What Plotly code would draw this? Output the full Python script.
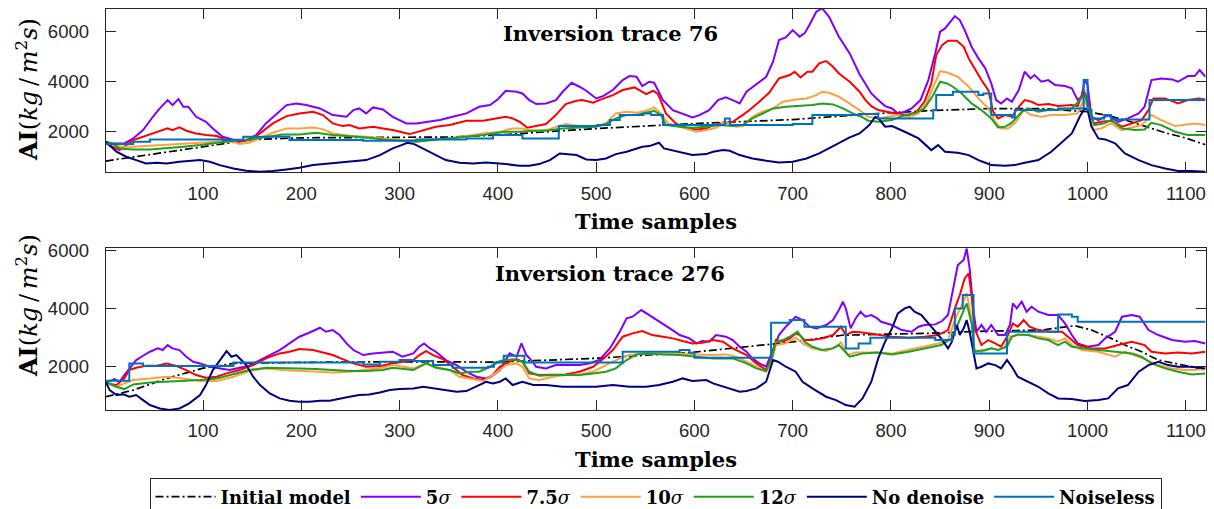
import plotly.graph_objects as go

# ---------------- Trace 76 (top panel) ----------------
init76_x = [1, 30, 64, 100, 131, 150, 200, 250, 300, 350, 400, 500, 600, 700, 786, 835, 900, 953, 1000, 1020, 1040, 1060, 1080, 1100, 1120]
init76_y = [830, 1000, 1200, 1400, 1600, 1690, 1760, 1760, 1760, 1790, 1870, 2130, 2330, 2490, 2730, 2840, 2930, 2930, 2800, 2650, 2450, 2200, 1950, 1750, 1480]

s5_76_x = [1, 20, 29, 39, 49, 56, 64, 69, 75, 80, 85, 93, 103, 110, 120, 130, 144, 154, 164, 175, 185, 195, 205, 219, 232, 246, 253, 259, 266, 273, 283, 293, 307, 317, 327, 341, 354, 368, 381, 392, 400, 408, 419, 425, 432, 439, 449, 459, 466, 475, 483, 490, 500, 507, 517, 527, 534, 541, 547, 554, 559, 568, 578, 588, 598, 605, 615, 624, 632, 639, 646, 653, 663, 673, 680, 686, 693, 700, 707, 712, 717, 724, 730, 737, 747, 758, 768, 774, 780, 787, 794, 801, 807, 814, 821, 830, 838, 845, 850, 855, 860, 865, 870, 875, 882, 889, 896, 902, 907, 912, 918, 923, 930, 936, 942, 946, 953, 960, 967, 977, 984, 990, 994, 997, 1000, 1004, 1011, 1021, 1031, 1041, 1052, 1058, 1065, 1075, 1086, 1092, 1102, 1109, 1114, 1120]
s5_76_y = [1535, 1535, 1735, 2068, 2600, 2934, 3268, 3068, 3308, 3001, 3001, 2600, 2400, 2134, 1800, 1695, 1668, 1868, 2335, 2735, 3068, 3135, 3068, 2934, 2668, 2600, 2868, 2934, 2735, 2975, 2895, 2600, 2335, 2335, 2400, 2468, 2600, 2735, 3001, 3068, 3300, 3641, 3601, 3534, 3268, 3108, 3135, 3268, 3601, 3961, 3801, 3641, 3334, 3428, 3668, 4068, 4228, 4201, 3828, 4001, 3961, 3268, 2868, 2735, 2575, 2668, 2868, 3268, 3375, 3268, 3135, 3601, 3908, 4201, 4801, 5667, 5774, 6067, 5801, 5934, 6267, 6800, 6934, 6600, 5801, 5134, 4300, 3934, 3534, 3268, 3028, 2934, 2735, 2801, 2934, 3268, 4068, 5134, 6001, 6134, 6400, 6627, 6467, 6067, 5401, 4934, 4534, 3934, 3268, 3135, 3334, 3201, 3668, 4401, 4135, 4268, 4001, 4068, 3868, 3828, 3735, 3268, 3401, 4068, 3868, 2600, 2468, 2668, 2400, 2535, 2735, 3001, 4068, 4135, 4095, 4001, 4228, 4228, 4468, 4201]

s75_76_x = [1, 15, 29, 39, 53, 64, 69, 76, 83, 93, 103, 114, 124, 137, 147, 158, 171, 185, 198, 212, 222, 232, 242, 249, 259, 273, 283, 293, 310, 324, 337, 351, 368, 385, 400, 408, 415, 422, 430, 439, 449, 459, 469, 480, 486, 497, 503, 517, 527, 539, 544, 551, 558, 563, 571, 581, 591, 602, 612, 619, 629, 639, 649, 656, 666, 676, 686, 697, 702, 708, 715, 720, 727, 734, 741, 747, 758, 768, 774, 780, 787, 797, 807, 818, 826, 834, 841, 846, 852, 858, 867, 874, 879, 886, 892, 899, 904, 909, 916, 923, 930, 936, 943, 950, 960, 970, 984, 990, 996, 1000, 1006, 1014, 1024, 1035, 1045, 1055, 1062, 1067, 1079, 1092, 1102, 1113, 1120]
s75_76_y = [1535, 1268, 1668, 1802, 2002, 2135, 2068, 2175, 2042, 1935, 1868, 1828, 1668, 1602, 1668, 1935, 2335, 2628, 2735, 2801, 2668, 2335, 2228, 2268, 2135, 2202, 2135, 2068, 1908, 2068, 2202, 2268, 2442, 2442, 2535, 2602, 2535, 2402, 2162, 2228, 2308, 2668, 3108, 3241, 3268, 3161, 3268, 3468, 3668, 3775, 3668, 3508, 3641, 3508, 2735, 2335, 2162, 2095, 2135, 2268, 2335, 2402, 2668, 2868, 3201, 3561, 4134, 4268, 4401, 4174, 4401, 4401, 4734, 4828, 4601, 4334, 4001, 3601, 3268, 3028, 2868, 2801, 2708, 2668, 2801, 3201, 3934, 5067, 5467, 5641, 5641, 5401, 4934, 4468, 4068, 3668, 2801, 2535, 2668, 2602, 3001, 3268, 3201, 3068, 3108, 3028, 3068, 3028, 3668, 3268, 2335, 2402, 2442, 2202, 2335, 2468, 2868, 3334, 3334, 3135, 3268, 3334, 3295]

s10_76_x = [1, 15, 29, 46, 63, 80, 97, 114, 131, 137, 147, 158, 171, 185, 198, 212, 222, 232, 249, 266, 283, 300, 317, 334, 351, 368, 385, 402, 415, 425, 436, 449, 459, 469, 483, 500, 510, 520, 531, 541, 551, 559, 566, 573, 585, 595, 602, 612, 622, 632, 642, 649, 659, 669, 680, 690, 703, 714, 724, 730, 737, 747, 758, 768, 777, 787, 797, 807, 818, 828, 836, 843, 850, 858, 868, 879, 889, 899, 906, 912, 919, 926, 935, 943, 953, 963, 977, 990, 996, 1000, 1006, 1014, 1024, 1035, 1045, 1055, 1065, 1075, 1089, 1099, 1109, 1120]
s10_76_y = [1602, 1402, 1402, 1442, 1468, 1508, 1535, 1602, 1602, 1508, 1562, 1735, 1962, 2135, 2135, 2175, 2108, 1935, 1842, 1802, 1735, 1668, 1668, 1695, 1735, 1828, 1935, 2002, 2135, 2135, 2042, 2068, 2202, 2308, 2228, 2228, 2335, 2735, 2801, 2761, 2841, 2975, 2735, 2335, 2202, 2095, 2002, 2068, 2162, 2402, 2202, 2228, 2602, 2801, 2934, 3201, 3295, 3334, 3468, 3601, 3561, 3401, 3135, 2868, 2602, 2535, 2602, 2668, 2575, 2735, 3135, 3801, 4428, 4361, 4201, 3801, 3334, 2934, 2402, 2135, 2135, 2335, 2868, 2668, 2602, 2668, 2668, 2735, 3268, 3001, 2068, 2135, 2335, 2068, 2162, 2268, 2668, 2468, 2228, 2268, 2335, 2268]

s12_76_x = [1, 8, 15, 29, 46, 63, 80, 97, 114, 131, 147, 164, 181, 198, 215, 232, 249, 266, 283, 300, 317, 334, 351, 368, 385, 395, 408, 422, 436, 449, 466, 483, 500, 510, 520, 531, 541, 551, 559, 566, 571, 585, 598, 612, 625, 639, 649, 659, 669, 680, 693, 707, 720, 730, 741, 751, 761, 771, 777, 787, 801, 814, 824, 834, 843, 850, 857, 863, 872, 882, 892, 902, 909, 916, 923, 933, 940, 950, 960, 970, 984, 992, 997, 1002, 1007, 1017, 1024, 1035, 1048, 1058, 1065, 1075, 1089, 1102, 1120]
s12_76_y = [1602, 1535, 1335, 1295, 1295, 1335, 1402, 1468, 1562, 1642, 1695, 1802, 1895, 1895, 1962, 1868, 1828, 1775, 1695, 1642, 1602, 1668, 1735, 1775, 1868, 1935, 2002, 2002, 2042, 2042, 2135, 2175, 2202, 2308, 2535, 2668, 2668, 2761, 2841, 2668, 2268, 2202, 2162, 2202, 2268, 2228, 2268, 2535, 2735, 2934, 3001, 3028, 3068, 3135, 3095, 2934, 2735, 2575, 2442, 2402, 2468, 2668, 2735, 2934, 3468, 4001, 3934, 3801, 3534, 3135, 2868, 2535, 2175, 2202, 2362, 2801, 2934, 2801, 2868, 2868, 2934, 3268, 3468, 2868, 2268, 2335, 2468, 2135, 2068, 2095, 2362, 2268, 2002, 1868, 1868]

nd_76_x = [1, 3, 12, 22, 32, 42, 53, 63, 76, 86, 97, 107, 117, 131, 144, 158, 171, 185, 198, 212, 232, 253, 266, 280, 293, 302, 308, 315, 324, 334, 347, 361, 375, 388, 395, 408, 422, 432, 442, 453, 463, 469, 480, 490, 500, 510, 520, 531, 541, 547, 554, 559, 564, 569, 576, 585, 598, 612, 619, 629, 636, 646, 659, 673, 686, 700, 714, 727, 737, 747, 758, 768, 778, 784, 788, 794, 801, 814, 828, 841, 848, 855, 868, 879, 889, 896, 902, 916, 926, 936, 950, 963, 973, 984, 992, 997, 1000, 1004, 1011, 1018, 1028, 1038, 1052, 1065, 1079, 1092, 1106, 1120]
nd_76_y = [1600, 1535, 1202, 1002, 868, 735, 762, 735, 802, 828, 868, 802, 668, 535, 442, 402, 428, 495, 562, 668, 735, 802, 868, 1068, 1335, 1468, 1562, 1508, 1335, 1135, 868, 762, 735, 775, 762, 708, 642, 642, 708, 868, 1135, 1108, 1068, 895, 868, 935, 1108, 1202, 1335, 1402, 1428, 1508, 1562, 1335, 1268, 1162, 1068, 1108, 1202, 1268, 1242, 1068, 935, 842, 775, 802, 935, 1135, 1335, 1562, 1775, 1935, 2268, 2600, 2500, 2202, 2228, 2002, 1735, 1268, 1468, 1202, 1162, 1068, 868, 762, 668, 642, 668, 762, 868, 1202, 1535, 1935, 2602, 2934, 2868, 2202, 1735, 1695, 1535, 1135, 868, 668, 535, 428, 428, 402]

nl_76_x = [1, 29, 46, 120, 141, 188, 263, 317, 368, 395, 425, 462, 501, 514, 524, 548, 556, 568, 631, 636, 700, 720, 767, 787, 843, 846, 863, 889, 894, 902, 923, 926, 970, 996, 1000, 1004, 1017, 1024, 1063, 1120]
nl_76_y = [1508, 1602, 1695, 1668, 1802, 1668, 1642, 1695, 1735, 1868, 1735, 2228, 2268, 2468, 2668, 2735, 2668, 2268, 2533, 2268, 2308, 2668, 2708, 2535, 2868, 3468, 3601, 3468, 3534, 2668, 2575, 2868, 2934, 4068, 2868, 2535, 2668, 2495, 3268, 3268]

# ---------------- Trace 276 (bottom panel) ----------------
init276_x = [1, 29, 63, 100, 131, 200, 300, 400, 500, 600, 700, 750, 786, 834, 900, 953, 987, 1004, 1024, 1038, 1055, 1072, 1089, 1106, 1120]
init276_y = [971, 1200, 1600, 1950, 2114, 2150, 2170, 2160, 2290, 2500, 2850, 3080, 3110, 3143, 3223, 3258, 3406, 3258, 2972, 2743, 2515, 2229, 2115, 2000, 1886]

s5_276_x = [1, 5, 10, 15, 20, 25, 32, 39, 46, 54, 59, 64, 69, 76, 83, 90, 97, 107, 117, 127, 137, 147, 158, 168, 178, 188, 198, 208, 219, 225, 232, 239, 246, 253, 263, 273, 283, 293, 303, 314, 320, 325, 331, 337, 347, 358, 368, 378, 388, 395, 402, 412, 419, 424, 429, 434, 439, 449, 459, 469, 483, 493, 503, 514, 524, 531, 537, 546, 554, 564, 575, 585, 595, 602, 608, 615, 622, 632, 639, 646, 653, 659, 666, 673, 680, 686, 693, 703, 710, 717, 724, 734, 741, 747, 751, 754, 759, 764, 769, 774, 780, 786, 790, 801, 811, 821, 828, 834, 845, 852, 858, 863, 868, 874, 877, 880, 884, 887, 892, 897, 902, 909, 916, 921, 924, 928, 933, 938, 943, 950, 960, 970, 977, 984, 990, 1000, 1011, 1018, 1028, 1035, 1045, 1053, 1062, 1072, 1086, 1099, 1109, 1120]
s5_276_y = [1486, 1509, 1577, 1486, 1714, 1943, 2229, 2377, 2515, 2629, 2572, 2743, 2629, 2572, 2343, 2172, 2114, 2000, 1943, 1886, 1966, 2034, 2229, 2400, 2572, 2800, 3029, 3166, 3337, 3200, 3257, 3086, 2800, 2572, 2400, 2457, 2492, 2515, 2343, 2457, 2686, 2800, 2629, 2515, 2229, 2057, 1829, 1657, 1600, 1700, 1886, 2457, 2343, 2800, 2400, 2229, 2000, 1943, 2057, 2057, 2057, 2114, 2229, 2629, 3200, 3657, 3715, 3943, 3772, 3566, 3315, 3086, 2972, 2800, 2880, 2858, 3086, 3029, 2915, 2686, 2515, 2286, 2114, 2000, 2572, 3086, 3372, 3715, 3600, 3372, 3315, 3429, 3600, 3943, 4229, 4000, 3315, 3657, 3886, 3715, 3772, 3657, 3543, 3429, 3257, 3200, 3372, 3429, 3452, 3566, 3772, 4686, 5486, 5658, 6058, 5372, 3886, 3200, 3429, 3200, 3429, 3086, 3086, 3429, 4172, 4000, 4229, 3886, 4057, 3886, 3772, 3772, 3486, 3086, 2800, 2686, 2743, 2972, 3200, 3715, 3772, 3715, 3257, 3086, 2915, 2858, 2880, 2800]

s75_276_x = [1, 12, 20, 25, 32, 42, 53, 63, 73, 83, 93, 103, 114, 124, 137, 151, 164, 178, 188, 198, 212, 222, 232, 242, 253, 266, 280, 293, 303, 314, 320, 327, 334, 344, 354, 364, 375, 385, 393, 402, 412, 419, 425, 432, 442, 456, 469, 483, 497, 507, 517, 527, 537, 547, 557, 568, 578, 588, 598, 608, 619, 629, 639, 653, 663, 673, 678, 683, 690, 697, 703, 707, 712, 720, 730, 741, 749, 754, 761, 771, 786, 801, 818, 834, 848, 858, 865, 870, 875, 879, 882, 885, 892, 899, 906, 912, 919, 924, 929, 935, 941, 950, 963, 974, 980, 990, 1004, 1018, 1031, 1045, 1058, 1065, 1079, 1092, 1106, 1120]
s75_276_y = [1429, 1372, 1600, 1886, 1966, 2034, 2034, 2114, 2023, 1886, 1714, 1623, 1657, 1772, 1886, 2057, 2286, 2457, 2515, 2606, 2572, 2492, 2400, 2263, 2114, 2000, 2023, 2114, 2172, 2229, 2400, 2537, 2400, 2263, 2000, 1714, 1600, 1543, 1650, 2000, 2172, 2263, 2172, 1772, 1714, 1714, 1737, 1829, 2000, 2263, 2572, 3029, 3143, 3223, 3086, 3029, 2972, 2880, 2800, 2823, 2915, 2858, 2629, 2400, 2114, 1886, 2286, 2915, 2858, 2972, 3143, 3086, 2915, 2915, 2972, 3086, 3372, 3086, 3200, 3177, 3109, 3029, 2995, 3029, 3086, 3257, 4000, 4458, 5029, 5201, 4458, 3315, 2743, 2915, 2800, 2686, 3086, 3486, 3372, 3600, 3372, 3257, 3200, 3200, 3029, 2743, 2629, 2629, 2743, 2858, 2743, 2515, 2457, 2492, 2457, 2515]

s10_276_x = [1, 12, 20, 29, 46, 63, 80, 97, 114, 131, 147, 164, 181, 198, 215, 232, 249, 266, 283, 293, 303, 314, 327, 337, 351, 361, 371, 385, 395, 408, 419, 425, 432, 442, 456, 469, 483, 497, 510, 524, 534, 551, 568, 585, 602, 619, 632, 642, 653, 663, 673, 678, 683, 693, 703, 710, 720, 734, 744, 749, 756, 764, 774, 786, 801, 818, 834, 848, 858, 865, 872, 877, 882, 885, 892, 902, 909, 916, 921, 929, 940, 950, 960, 970, 977, 984, 994, 1011, 1028, 1038, 1048, 1058, 1072, 1086, 1099, 1109, 1120]
s10_276_y = [1429, 1314, 1429, 1543, 1600, 1657, 1600, 1509, 1509, 1657, 1852, 1943, 1886, 1852, 1829, 1806, 1829, 1886, 1966, 2057, 2000, 1943, 2114, 2000, 1886, 1657, 1600, 1509, 1714, 2057, 2114, 2000, 1600, 1543, 1657, 1714, 1737, 1829, 2057, 2286, 2400, 2457, 2457, 2457, 2423, 2400, 2423, 2343, 2172, 2000, 1829, 2114, 2743, 2800, 2995, 2800, 2629, 2537, 2686, 2835, 2400, 2492, 2492, 2492, 2457, 2572, 2686, 2800, 2915, 3600, 4115, 4515, 3657, 2572, 2515, 2629, 2572, 2686, 3029, 3086, 3086, 3029, 2972, 2858, 2972, 2743, 2572, 2515, 2343, 2515, 2400, 2263, 2057, 1943, 1886, 1886, 1943]

s12_276_x = [1, 12, 20, 29, 46, 63, 80, 97, 114, 131, 147, 164, 181, 198, 215, 232, 249, 266, 283, 293, 303, 314, 327, 337, 351, 361, 371, 381, 392, 402, 415, 425, 432, 442, 456, 469, 483, 497, 510, 520, 531, 541, 551, 568, 585, 602, 619, 639, 653, 663, 673, 678, 683, 690, 697, 705, 712, 720, 730, 741, 747, 758, 771, 786, 801, 818, 834, 851, 862, 868, 877, 882, 885, 896, 902, 909, 918, 923, 929, 940, 950, 960, 970, 977, 984, 997, 1014, 1031, 1045, 1055, 1065, 1079, 1092, 1106, 1120]
s12_276_y = [1486, 1314, 1234, 1394, 1463, 1486, 1520, 1543, 1600, 1737, 1886, 1966, 1966, 1943, 1920, 1886, 1852, 1852, 1886, 1966, 1920, 1886, 2114, 1966, 1886, 1772, 1829, 1829, 2000, 2195, 2252, 2172, 1829, 1692, 1714, 1714, 1714, 1772, 1829, 1943, 2229, 2423, 2457, 2423, 2400, 2343, 2286, 2286, 2114, 1943, 1852, 2229, 2858, 2915, 3029, 3200, 2858, 2686, 2572, 2629, 2743, 2343, 2457, 2492, 2423, 2515, 2629, 2743, 2972, 3429, 4172, 3486, 2515, 2572, 2629, 2572, 2686, 3029, 3109, 3086, 2972, 2915, 2743, 2858, 2686, 2629, 2572, 2515, 2457, 2343, 2114, 1943, 1829, 1737, 1772]

nd_276_x = [1, 5, 12, 19, 25, 32, 39, 46, 56, 66, 76, 86, 97, 103, 110, 117, 124, 129, 134, 139, 144, 151, 158, 168, 178, 188, 198, 208, 219, 229, 239, 249, 259, 269, 280, 290, 300, 314, 324, 334, 347, 358, 368, 378, 388, 395, 402, 408, 415, 425, 436, 449, 466, 483, 500, 517, 534, 551, 564, 578, 588, 598, 612, 619, 629, 639, 646, 653, 663, 673, 680, 685, 693, 703, 710, 720, 734, 744, 754, 763, 771, 780, 787, 794, 801, 807, 814, 819, 824, 831, 838, 845, 851, 858, 862, 867, 870, 874, 877, 880, 884, 887, 892, 899, 906, 912, 918, 923, 929, 940, 950, 960, 970, 984, 997, 1011, 1021, 1031, 1041, 1052, 1062, 1072, 1082, 1092, 1106, 1120]
nd_276_y = [1486, 1200, 1029, 1052, 972, 1029, 857, 686, 571, 514, 571, 743, 1029, 1372, 1886, 2229, 2537, 2343, 2400, 2229, 2057, 1657, 1372, 1086, 914, 834, 800, 800, 834, 834, 914, 972, 1029, 1052, 1120, 1200, 1234, 1257, 1314, 1257, 1200, 1143, 1166, 1314, 1486, 1429, 1486, 1600, 1372, 1486, 1372, 1372, 1314, 1314, 1314, 1372, 1314, 1314, 1372, 1486, 1600, 1509, 1543, 1429, 1314, 1200, 1143, 1166, 1257, 1486, 2229, 2172, 2000, 1829, 1486, 1257, 972, 857, 686, 629, 914, 1486, 2286, 2858, 3315, 3829, 4000, 4058, 3886, 3772, 3486, 3200, 2972, 2629, 2858, 3429, 3086, 3315, 3600, 3200, 2515, 1943, 2000, 2114, 2057, 1943, 2229, 2000, 1657, 1486, 1314, 1086, 914, 892, 823, 857, 914, 1257, 1372, 1829, 2057, 2172, 2057, 2000, 2000, 1943]

nl_276_x = [1, 25, 39, 131, 263, 280, 300, 314, 334, 354, 390, 396, 406, 427, 527, 585, 595, 600, 678, 697, 712, 754, 767, 779, 845, 862, 865, 873, 884, 918, 970, 984, 990, 1120]
nl_276_y = [1520, 2114, 2023, 2149, 2080, 2172, 2229, 2195, 2057, 1966, 2000, 2149, 2377, 2149, 2515, 2572, 2480, 2309, 3509, 3600, 3372, 2629, 2800, 2995, 2915, 3100, 4000, 4458, 2457, 3200, 3794, 3715, 3543, 3543]

x_ticks = [100, 200, 300, 400, 500, 600, 700, 800, 900, 1000, 1100]
y_ticks = [2000, 4000, 6000]

names = ["<b>Initial model</b>", "<b>5</b><i>σ</i>", "<b>7.5</b><i>σ</i>", "<b>10</b><i>σ</i>",
         "<b>12</b><i>σ</i>", "<b>No denoise</b>", "<b>Noiseless</b>"]
colors = ["#000000", "#8000FF", "#FF0000", "#FFA040", "#1FA01F", "#000080", "#0072BD"]

top = [(init76_x, init76_y), (s5_76_x, s5_76_y), (s75_76_x, s75_76_y), (s10_76_x, s10_76_y),
       (s12_76_x, s12_76_y), (nd_76_x, nd_76_y), (nl_76_x, nl_76_y)]
bot = [(init276_x, init276_y), (s5_276_x, s5_276_y), (s75_276_x, s75_276_y), (s10_276_x, s10_276_y),
       (s12_276_x, s12_276_y), (nd_276_x, nd_276_y), (nl_276_x, nl_276_y)]

fig = go.Figure()
for panel, (xa, ya, data) in enumerate([("x", "y", top), ("x2", "y2", bot)]):
    for i, (xs, ys) in enumerate(data):
        line = dict(color=colors[i], width=2)
        if i == 0:
            line["dash"] = "8px,3px,2px,3px"
            line["width"] = 1.7
        if i == 6:
            line["shape"] = "hv"
        fig.add_trace(go.Scatter(x=xs, y=ys, mode="lines", name=names[i], line=line,
                                 xaxis=xa, yaxis=ya, showlegend=(panel == 0)))

W, H = 1214, 509
axis_common = dict(showline=True, linecolor="#262626", linewidth=1, mirror="ticks",
                   ticks="inside", ticklen=10, tickwidth=1, tickcolor="#262626",
                   showgrid=False, zeroline=False, automargin=False,
                   tickfont=dict(family="Liberation Sans, Arial, sans-serif", size=18.5, color="#262626"))

xdom = [105.7 / W, 1205.5 / W]
fig.update_layout(
    width=W, height=H,
    margin=dict(l=0, r=0, t=0, b=0, autoexpand=False),
    paper_bgcolor="white", plot_bgcolor="white",
    xaxis=dict(domain=xdom, range=[1, 1120], tickvals=x_ticks, anchor="y", ticklabelstandoff=4, **axis_common),
    yaxis=dict(domain=[1 - 172.3 / H, 1 - 9 / H], range=[380, 6910], tickvals=y_ticks, anchor="x",
               ticklabelstandoff=12, **axis_common),
    xaxis2=dict(domain=xdom, range=[1, 1120], tickvals=x_ticks, anchor="y2", ticklabelstandoff=4, **axis_common),
    yaxis2=dict(domain=[1 - 410 / H, 1 - 248.3 / H], range=[517, 6060], tickvals=y_ticks, anchor="x2",
                ticklabelstandoff=12, **axis_common),
    legend=dict(orientation="h", xref="container", yref="container",
                x=655.5 / W, xanchor="center", y=1 - 477.5 / H, yanchor="top",
                bgcolor="white", bordercolor="#262626", borderwidth=1, itemwidth=60,
                font=dict(family="DejaVu Serif", size=18, color="black")),
    showlegend=True,
)

serif = "DejaVu Serif"
ann = []
ylab = "<b>AI</b>(<i>kg</i>\u2009/\u2009<i>m</i><sup>2</sup><i>s</i>)"
ann.append(dict(text=ylab, x=27 / W, y=1 - 90 / H, textangle=-90))
ann.append(dict(text=ylab, x=27 / W, y=1 - 306 / H, textangle=-90))
ann.append(dict(text="<b>Time samples</b>", x=655.5 / W, y=1 - 221 / H))
ann.append(dict(text="<b>Time samples</b>", x=655.5 / W, y=1 - 459.5 / H))
ann.append(dict(text="<b>Inversion trace 76</b>", x=610 / W, y=1 - 34 / H))
ann.append(dict(text="<b>Inversion trace 276</b>", x=610 / W, y=1 - 273 / H))
for a in ann:
    a.update(xref="paper", yref="paper", showarrow=False, xanchor="center", yanchor="middle",
             font=dict(family=serif, size=24 if "AI" in a["text"] else 21, color="black"))
fig.update_layout(annotations=ann)

fig.write_html("out.html", config={"displayModeBar": False},
               post_script="document.body.style.margin='0px';document.body.style.overflow='hidden';")
